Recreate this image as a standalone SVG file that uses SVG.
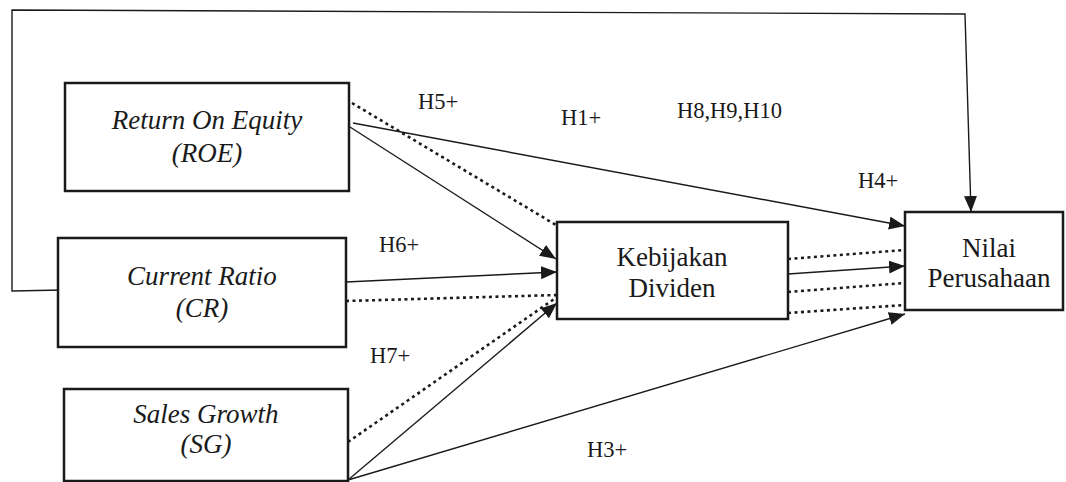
<svg xmlns="http://www.w3.org/2000/svg" width="1066" height="482" viewBox="0 0 1066 482">
<style>
.box{fill:#fff;stroke:#1a1a1a;stroke-width:2.5}
.nt{font-family:'Liberation Serif','Times New Roman',serif;font-size:27px;fill:#1a1a1a;text-anchor:middle}
.it{font-style:italic}
.lbl{font-family:'Liberation Serif','Times New Roman',serif;font-size:22.5px;fill:#1a1a1a}
.solid{fill:none;stroke:#1a1a1a;stroke-width:1.4}
.dot{fill:none;stroke:#1a1a1a;stroke-width:2.6;stroke-dasharray:3 3.5}
</style>
<defs>
<marker id="ah" markerUnits="userSpaceOnUse" markerWidth="17" markerHeight="14" refX="16" refY="6.5" orient="auto">
<path d="M0,0 L16,6.5 L0,13 z" fill="#1a1a1a"/>
</marker>
</defs>
<g id="connectors">
<polyline class="solid" points="63,290 12,291 12,10 965,14 971,212" marker-end="url(#ah)"/>
<line class="dot" x1="352" y1="103" x2="556" y2="225"/>
<line class="solid" x1="350" y1="127" x2="556" y2="259" marker-end="url(#ah)"/>
<line class="solid" x1="353" y1="123" x2="905" y2="226" marker-end="url(#ah)"/>
<line class="solid" x1="346" y1="282" x2="557" y2="272" marker-end="url(#ah)"/>
<line class="dot" x1="346" y1="301" x2="557" y2="295"/>
<line class="dot" x1="348" y1="442" x2="557" y2="297"/>
<line class="solid" x1="348" y1="480" x2="557" y2="303" marker-end="url(#ah)"/>
<line class="solid" x1="348" y1="480" x2="905" y2="314" marker-end="url(#ah)"/>
<line class="dot" x1="788" y1="259" x2="905" y2="250"/>
<line class="solid" x1="788" y1="274" x2="905" y2="266" marker-end="url(#ah)"/>
<line class="dot" x1="788" y1="292" x2="905" y2="283"/>
<line class="dot" x1="788" y1="313" x2="905" y2="305"/>
</g>
<g id="roe">
<rect class="box" x="65" y="83" width="284" height="108"/>
<text class="nt it" x="207" y="129">Return On Equity</text>
<text class="nt it" x="207" y="162">(ROE)</text>
</g>
<g id="cr">
<rect class="box" x="58" y="238" width="288" height="109"/>
<text class="nt it" x="202" y="285">Current Ratio</text>
<text class="nt it" x="202" y="317">(CR)</text>
</g>
<g id="sg">
<rect class="box" x="64" y="389" width="284" height="92"/>
<text class="nt it" x="206" y="423">Sales Growth</text>
<text class="nt it" x="206" y="453">(SG)</text>
</g>
<g id="kd">
<rect class="box" x="557" y="222" width="231" height="97"/>
<text class="nt" x="672" y="266">Kebijakan</text>
<text class="nt" x="672" y="297">Dividen</text>
</g>
<g id="nilai">
<rect class="box" x="905" y="212" width="158" height="98"/>
<text class="nt" x="989" y="257">Nilai</text>
<text class="nt" x="989" y="287">Perusahaan</text>
</g>
<g id="labels">
<text class="lbl" x="418" y="109">H5+</text>
<text class="lbl" x="561" y="125">H1+</text>
<text class="lbl" x="677" y="118">H8,H9,H10</text>
<text class="lbl" x="858" y="188">H4+</text>
<text class="lbl" x="379" y="252">H6+</text>
<text class="lbl" x="370" y="363">H7+</text>
<text class="lbl" x="587" y="457">H3+</text>
</g>
</svg>
